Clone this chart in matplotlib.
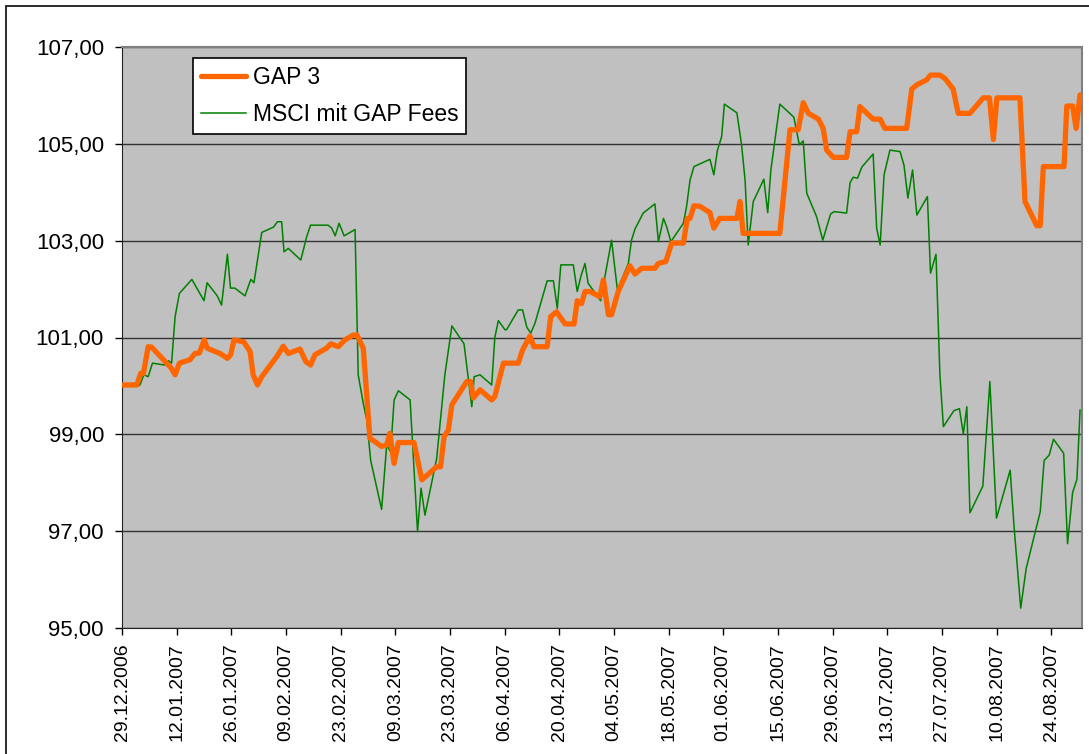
import matplotlib
matplotlib.use("Agg")
import matplotlib.pyplot as plt
from matplotlib.patches import Rectangle
import numpy as np
import pandas as pd

plt.rcParams["font.family"] = ["Liberation Sans", "DejaVu Sans"]

# data: x = days after 29.12.2006, y = index level
start = pd.Timestamp("2006-12-29")

gap3_days = [0, 3.8, 4.8, 5.5, 6.7, 7.6, 11.4, 12.7, 13.6, 14.7, 17.4, 18.7, 19.8, 21.1, 21.8,
             25.1, 27.0, 27.8, 28.7, 31.2, 32.8, 33.6, 34.7, 35.8, 39.6, 41.3, 42.6, 45.6, 47.1,
             48.3, 49.4, 52.4, 53.5, 55.4, 57.1, 59.2, 60.2, 61.8, 63.5, 66.5, 67.8, 68.6, 69.7,
             70.8, 74.8, 76.8, 80.6, 81.6, 82.5, 83.6, 84.5, 88.3, 89.3, 90.0, 91.7, 94.7, 95.5,
             97.7, 101.5, 102.6, 104.5, 105.5, 108.9, 109.8, 111.3, 113.5, 115.8, 116.6, 117.7,
             118.6, 119.9, 122.4, 123.3, 124.6, 125.4, 127.1, 130.1, 131.4, 133.1, 136.5, 137.4,
             139.3, 140.8, 143.8, 144.8, 145.5, 146.5, 148.0, 150.6, 151.6, 153.1, 157.5, 158.3,
             159.1, 168.5, 171.1, 173.2, 174.5, 175.8, 178.4, 179.6, 180.5, 182.2, 185.6, 186.5,
             188.2, 189.0, 192.4, 194.2, 195.4, 201.0, 202.3, 203.6, 206.1, 207.1, 209.5, 210.8,
             212.9, 214.2, 217.2, 220.6, 222.2, 223.2, 224.1, 230.0, 231.3, 234.3, 235.2, 236.0,
             241.3, 242.0, 243.5, 244.4, 245.4]
gap3_vals = [100.02, 100.02, 100.26, 100.26, 100.81, 100.80, 100.47, 100.36, 100.23, 100.47,
             100.54, 100.67, 100.68, 100.95, 100.78, 100.67, 100.57, 100.64, 100.95, 100.91,
             100.71, 100.23, 100.02, 100.19, 100.60, 100.82, 100.67, 100.76, 100.50, 100.43,
             100.64, 100.78, 100.87, 100.81, 100.95, 101.05, 101.05, 100.78, 98.92, 98.75, 98.78,
             99.02, 98.40, 98.83, 98.83, 98.06, 98.33, 98.33, 98.95, 99.09, 99.61, 100.09,
             100.09, 99.75, 99.92, 99.71, 99.78, 100.47, 100.47, 100.74, 101.03, 100.81, 100.81,
             101.43, 101.53, 101.28, 101.28, 101.76, 101.70, 101.95, 101.95, 101.84, 102.19,
             101.47, 101.47, 101.95, 102.48, 102.31, 102.43, 102.43, 102.53, 102.57, 102.95,
             102.95, 103.46, 103.46, 103.72, 103.71, 103.58, 103.26, 103.46, 103.46, 103.81,
             103.15, 103.15, 105.29, 105.29, 105.85, 105.63, 105.51, 105.32, 104.87, 104.72,
             104.72, 105.25, 105.25, 105.77, 105.51, 105.51, 105.32, 105.32, 106.13, 106.22,
             106.32, 106.42, 106.42, 106.35, 106.13, 105.63, 105.63, 105.95, 105.95, 105.09,
             105.95, 105.95, 103.81, 103.31, 103.31, 104.53, 104.53, 105.78, 105.78, 105.32,
             106.01]

msci_days = [0, 3.8, 4.6, 5.6, 6.7, 7.8, 11.0, 11.9, 12.7, 13.6, 14.7, 17.9, 21.0, 21.8, 24.4,
             25.5, 27.0, 27.8, 28.9, 31.5, 33.0, 33.8, 35.8, 38.8, 39.8, 40.9, 41.5, 42.6, 45.8,
             47.3, 48.3, 52.8, 53.7, 54.6, 55.6, 56.9, 59.7, 60.5, 61.8, 62.7, 63.7, 66.5, 67.8,
             68.8, 69.7, 70.8, 73.8, 75.7, 76.6, 77.6, 80.6, 82.7, 84.5, 87.6, 89.6, 90.2, 91.7,
             94.7, 95.5, 96.4, 98.1, 98.5, 101.5, 102.6, 103.7, 104.7, 105.8, 108.9, 110.5,
             111.5, 112.4, 115.6, 116.6, 117.6, 118.6, 119.4, 122.6, 123.7, 125.4, 126.9, 129.7,
             130.5, 131.4, 133.5, 136.5, 137.4, 138.7, 139.5, 140.6, 143.8, 144.6, 145.5, 146.5,
             150.6, 151.6, 152.5, 153.6, 154.3, 157.5, 158.7, 159.6, 160.4, 161.7, 164.4, 165.4,
             166.2, 168.5, 172.1, 173.5, 174.5, 175.4, 177.9, 179.5, 181.5, 182.4, 185.6, 186.5,
             187.3, 188.4, 189.5, 192.4, 193.3, 194.2, 195.2, 196.7, 199.3, 200.3, 201.3, 202.5,
             203.6, 206.3, 207.1, 208.5, 209.5, 210.4, 213.1, 214.5, 215.5, 216.4, 217.2, 220.5,
             222.3, 224.0, 227.5, 228.5, 230.2, 231.6, 235.2, 236.2, 237.5, 238.6, 241.2, 242.2,
             243.5, 244.6, 245.4]
msci_vals = [100.00, 99.99, 100.02, 100.23, 100.19, 100.47, 100.43, 100.52, 100.47, 101.43,
             101.91, 102.20, 101.76, 102.13, 101.86, 101.67, 102.72, 102.02, 102.02, 101.86,
             102.20, 102.13, 103.17, 103.28, 103.39, 103.39, 102.77, 102.84, 102.60, 103.08,
             103.32, 103.32, 103.26, 103.10, 103.36, 103.10, 103.23, 100.23, 99.64, 99.30, 98.46,
             97.45, 98.78, 98.64, 99.71, 99.90, 99.71, 96.99, 97.89, 97.33, 98.50, 100.23,
             101.24, 100.87, 99.57, 100.19, 100.23, 100.02, 101.00, 101.35, 101.16, 101.16,
             101.57, 101.57, 101.21, 101.09, 101.30, 102.17, 102.17, 101.60, 102.50, 102.50,
             101.95, 102.28, 102.53, 102.12, 101.76, 102.26, 103.01, 101.98, 102.53, 103.01,
             103.24, 103.57, 103.76, 102.98, 103.46, 103.29, 102.98, 103.36, 103.70, 104.25,
             104.53, 104.68, 104.36, 104.86, 105.15, 105.82, 105.64, 104.98, 104.25, 102.91,
             103.81, 104.27, 103.58, 104.46, 105.82, 105.55, 104.98, 105.06, 103.98, 103.50,
             103.01, 103.55, 103.60, 103.57, 104.20, 104.31, 104.29, 104.52, 104.79, 103.26,
             102.91, 104.36, 104.87, 104.84, 104.56, 103.88, 104.46, 103.53, 103.91, 102.33,
             102.72, 100.23, 99.16, 99.49, 99.53, 99.01, 99.57, 97.38, 97.93, 100.09, 97.27,
             98.26, 97.09, 95.41, 96.23, 97.40, 98.46, 98.57, 98.90, 98.61, 96.74, 97.80, 98.07,
             99.50]

tick_days = np.arange(0, 239, 14)
tick_labels = [(start + pd.Timedelta(days=int(d))).strftime("%d.%m.%Y") for d in tick_days]
y_ticks = [95, 97, 99, 101, 103, 105, 107]

fig = plt.figure(figsize=(10.89, 7.54), dpi=100)
# outer chart border, cut off at the right and bottom like the original
fig.patches.append(Rectangle((6 / 1089, -0.2), 1.2, 1.2 - 6 / 754, transform=fig.transFigure,
                             fill=False, edgecolor="#1a1a1a", linewidth=1.3, zorder=0))

ax = fig.add_axes([122 / 1089, 1 - 628 / 754, (1082 - 122) / 1089, (628 - 47) / 754])
ax.set_facecolor("#C0C0C0")

ax.plot(msci_days, msci_vals, color="#008000", lw=1.1, label="MSCI mit GAP Fees", zorder=3)
ax.plot(gap3_days, gap3_vals, color="#FF6600", lw=3.8, label="GAP 3", zorder=4,
        solid_joinstyle="round", solid_capstyle="round")

ax.set_xlim(0, 245.9)
ax.set_ylim(95, 107)
ax.set_yticks(y_ticks)
ax.set_yticklabels([f"{v:.2f}".replace(".", ",") for v in y_ticks], fontsize=16)
ax.set_xticks(tick_days)
ax.set_xticklabels(tick_labels, rotation=90, fontsize=14)
ax.tick_params(axis="y", direction="out", length=5, width=1, pad=8)
ax.tick_params(axis="x", direction="out", length=5, width=1, pad=6)
ax.grid(axis="y", color="#333333", lw=1)
ax.set_axisbelow(True)

for side in ["top", "right"]:
    ax.spines[side].set_color("#808080")
    ax.spines[side].set_linewidth(1.5)
for side in ["left", "bottom"]:
    ax.spines[side].set_color("#222222")

handles, labels = ax.get_legend_handles_labels()
leg = ax.legend(handles[::-1], labels[::-1], loc="upper left",
                bbox_to_anchor=(193 / 1089, 1 - 58 / 754), bbox_transform=fig.transFigure,
                fontsize=16.5, frameon=True, fancybox=False, framealpha=1, edgecolor="black",
                handlelength=1.95, handletextpad=0.3, borderpad=0.35, labelspacing=0.6,
                borderaxespad=0)
leg.get_frame().set_linewidth(1.2)

fig.savefig("out.png", dpi=100)
